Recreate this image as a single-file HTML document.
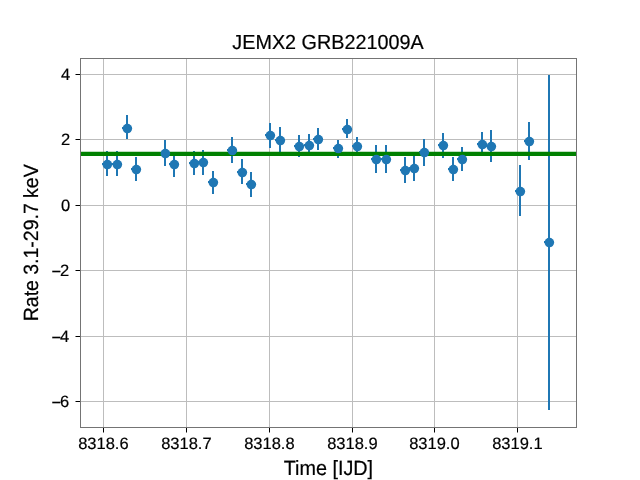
<!DOCTYPE html><html><head><meta charset="utf-8"><title>JEMX2 GRB221009A</title>
<style>html,body{margin:0;padding:0;background:#fff}svg{display:block}text{font-family:"Liberation Sans",sans-serif;fill:#000;stroke:#000;stroke-width:0.2px;text-rendering:geometricPrecision}</style></head><body>
<svg width="640" height="480" viewBox="0 0 640 480">
<rect width="640" height="480" fill="#fff"/>
<g stroke="#bdbdbd" stroke-width="1" fill="none">
<line x1="103.5" y1="58.5" x2="103.5" y2="427.5"/>
<line x1="186.5" y1="58.5" x2="186.5" y2="427.5"/>
<line x1="269.5" y1="58.5" x2="269.5" y2="427.5"/>
<line x1="352.5" y1="58.5" x2="352.5" y2="427.5"/>
<line x1="434.5" y1="58.5" x2="434.5" y2="427.5"/>
<line x1="517.5" y1="58.5" x2="517.5" y2="427.5"/>
<line x1="80.5" y1="74.5" x2="576.5" y2="74.5"/>
<line x1="80.5" y1="139.5" x2="576.5" y2="139.5"/>
<line x1="80.5" y1="205.5" x2="576.5" y2="205.5"/>
<line x1="80.5" y1="270.5" x2="576.5" y2="270.5"/>
<line x1="80.5" y1="336.5" x2="576.5" y2="336.5"/>
<line x1="80.5" y1="401.5" x2="576.5" y2="401.5"/>
</g>
<g stroke="#000" stroke-width="1">
<line x1="103.5" y1="427.5" x2="103.5" y2="432.5"/>
<line x1="186.5" y1="427.5" x2="186.5" y2="432.5"/>
<line x1="269.5" y1="427.5" x2="269.5" y2="432.5"/>
<line x1="352.5" y1="427.5" x2="352.5" y2="432.5"/>
<line x1="434.5" y1="427.5" x2="434.5" y2="432.5"/>
<line x1="517.5" y1="427.5" x2="517.5" y2="432.5"/>
<line x1="80.5" y1="74.5" x2="75.5" y2="74.5"/>
<line x1="80.5" y1="139.5" x2="75.5" y2="139.5"/>
<line x1="80.5" y1="205.5" x2="75.5" y2="205.5"/>
<line x1="80.5" y1="270.5" x2="75.5" y2="270.5"/>
<line x1="80.5" y1="336.5" x2="75.5" y2="336.5"/>
<line x1="80.5" y1="401.5" x2="75.5" y2="401.5"/>
</g>
<g stroke="#1f77b4" stroke-width="2" fill="none">
<line x1="107" y1="151" x2="107" y2="176"/>
<line x1="102.0" y1="164" x2="112.0" y2="164"/>
<line x1="117" y1="151" x2="117" y2="176"/>
<line x1="112.0" y1="164" x2="122.0" y2="164"/>
<line x1="127" y1="115" x2="127" y2="139"/>
<line x1="122.0" y1="128" x2="132.0" y2="128"/>
<line x1="136" y1="157" x2="136" y2="181"/>
<line x1="131.0" y1="169" x2="141.0" y2="169"/>
<line x1="165" y1="140" x2="165" y2="166"/>
<line x1="160.0" y1="153" x2="170.0" y2="153"/>
<line x1="174" y1="156" x2="174" y2="177"/>
<line x1="169.0" y1="164" x2="179.0" y2="164"/>
<line x1="194" y1="151" x2="194" y2="175"/>
<line x1="189.0" y1="163" x2="199.0" y2="163"/>
<line x1="203" y1="150" x2="203" y2="175"/>
<line x1="198.0" y1="162" x2="208.0" y2="162"/>
<line x1="213" y1="171" x2="213" y2="194"/>
<line x1="208.0" y1="182" x2="218.0" y2="182"/>
<line x1="232" y1="137" x2="232" y2="163"/>
<line x1="227.0" y1="150" x2="237.0" y2="150"/>
<line x1="242" y1="159" x2="242" y2="184"/>
<line x1="237.0" y1="172" x2="247.0" y2="172"/>
<line x1="251" y1="172" x2="251" y2="197"/>
<line x1="246.0" y1="184" x2="256.0" y2="184"/>
<line x1="270" y1="123" x2="270" y2="148"/>
<line x1="265.0" y1="135" x2="275.0" y2="135"/>
<line x1="280" y1="127" x2="280" y2="152"/>
<line x1="275.0" y1="140" x2="285.0" y2="140"/>
<line x1="299" y1="135" x2="299" y2="157"/>
<line x1="294.0" y1="146" x2="304.0" y2="146"/>
<line x1="309" y1="134" x2="309" y2="156"/>
<line x1="304.0" y1="145" x2="314.0" y2="145"/>
<line x1="318" y1="128" x2="318" y2="150"/>
<line x1="313.0" y1="139" x2="323.0" y2="139"/>
<line x1="338" y1="140" x2="338" y2="158"/>
<line x1="333.0" y1="148" x2="343.0" y2="148"/>
<line x1="347" y1="119" x2="347" y2="138"/>
<line x1="342.0" y1="129" x2="352.0" y2="129"/>
<line x1="357" y1="137" x2="357" y2="155"/>
<line x1="352.0" y1="146" x2="362.0" y2="146"/>
<line x1="376" y1="145" x2="376" y2="173"/>
<line x1="371.0" y1="159" x2="381.0" y2="159"/>
<line x1="386" y1="145" x2="386" y2="173"/>
<line x1="381.0" y1="159" x2="391.0" y2="159"/>
<line x1="405" y1="157" x2="405" y2="183"/>
<line x1="400.0" y1="170" x2="410.0" y2="170"/>
<line x1="414" y1="156" x2="414" y2="181"/>
<line x1="409.0" y1="168" x2="419.0" y2="168"/>
<line x1="424" y1="139" x2="424" y2="166"/>
<line x1="419.0" y1="152" x2="429.0" y2="152"/>
<line x1="443" y1="133" x2="443" y2="158"/>
<line x1="438.0" y1="145" x2="448.0" y2="145"/>
<line x1="453" y1="157" x2="453" y2="181"/>
<line x1="448.0" y1="169" x2="458.0" y2="169"/>
<line x1="462" y1="147" x2="462" y2="171"/>
<line x1="457.0" y1="159" x2="467.0" y2="159"/>
<line x1="482" y1="132" x2="482" y2="156"/>
<line x1="477.0" y1="144" x2="487.0" y2="144"/>
<line x1="491" y1="130" x2="491" y2="162"/>
<line x1="486.0" y1="146" x2="496.0" y2="146"/>
<line x1="520" y1="165" x2="520" y2="216"/>
<line x1="515.0" y1="191" x2="525.0" y2="191"/>
<line x1="529" y1="122" x2="529" y2="160"/>
<line x1="524.0" y1="141" x2="534.0" y2="141"/>
<line x1="549" y1="75" x2="549" y2="410"/>
<line x1="544.0" y1="242" x2="554.0" y2="242"/>
</g>
<line x1="80.5" y1="153.95" x2="576.5" y2="153.95" stroke="#008000" stroke-width="4.17"/>
<g fill="#1f77b4">
<circle cx="107.35" cy="164.55" r="4.8"/>
<circle cx="117.35" cy="164.55" r="4.8"/>
<circle cx="127.35" cy="128.55" r="4.8"/>
<circle cx="136.35" cy="169.55" r="4.8"/>
<circle cx="165.35" cy="153.55" r="4.8"/>
<circle cx="174.35" cy="164.55" r="4.8"/>
<circle cx="194.35" cy="163.55" r="4.8"/>
<circle cx="203.35" cy="162.55" r="4.8"/>
<circle cx="213.35" cy="182.55" r="4.8"/>
<circle cx="232.35" cy="150.55" r="4.8"/>
<circle cx="242.35" cy="172.55" r="4.8"/>
<circle cx="251.35" cy="184.55" r="4.8"/>
<circle cx="270.35" cy="135.55" r="4.8"/>
<circle cx="280.35" cy="140.55" r="4.8"/>
<circle cx="299.35" cy="146.55" r="4.8"/>
<circle cx="309.35" cy="145.55" r="4.8"/>
<circle cx="318.35" cy="139.55" r="4.8"/>
<circle cx="338.35" cy="148.55" r="4.8"/>
<circle cx="347.35" cy="129.55" r="4.8"/>
<circle cx="357.35" cy="146.55" r="4.8"/>
<circle cx="376.35" cy="159.55" r="4.8"/>
<circle cx="386.35" cy="159.55" r="4.8"/>
<circle cx="405.35" cy="170.55" r="4.8"/>
<circle cx="414.35" cy="168.55" r="4.8"/>
<circle cx="424.35" cy="152.55" r="4.8"/>
<circle cx="443.35" cy="145.55" r="4.8"/>
<circle cx="453.35" cy="169.55" r="4.8"/>
<circle cx="462.35" cy="159.55" r="4.8"/>
<circle cx="482.35" cy="144.55" r="4.8"/>
<circle cx="491.35" cy="146.55" r="4.8"/>
<circle cx="520.35" cy="191.55" r="4.8"/>
<circle cx="529.35" cy="141.55" r="4.8"/>
<circle cx="549.35" cy="242.55" r="4.8"/>
</g>
<rect x="80.5" y="58.5" width="496.0" height="369.0" fill="none" stroke="#747474" stroke-width="1"/>
<g font-size="16.5px">
<text transform="translate(103.4,448.8)" text-anchor="middle">8318.6</text>
<text transform="translate(186.4,448.8)" text-anchor="middle">8318.7</text>
<text transform="translate(269.4,448.8)" text-anchor="middle">8318.8</text>
<text transform="translate(352.4,448.8)" text-anchor="middle">8318.9</text>
<text transform="translate(434.4,448.8)" text-anchor="middle">8319.0</text>
<text transform="translate(517.4,448.8)" text-anchor="middle">8319.1</text>
<text transform="translate(70.3,79.8)" text-anchor="end">4</text>
<text transform="translate(70.3,144.8)" text-anchor="end">2</text>
<text transform="translate(70.3,210.8)" text-anchor="end">0</text>
<text transform="translate(69.1,275.8)" text-anchor="end"><tspan dy="1.6" letter-spacing="-1.2">−</tspan><tspan dy="-1.6">2</tspan></text>
<text transform="translate(69.1,341.8)" text-anchor="end"><tspan dy="1.6" letter-spacing="-1.2">−</tspan><tspan dy="-1.6">4</tspan></text>
<text transform="translate(69.1,406.8)" text-anchor="end"><tspan dy="1.6" letter-spacing="-1.2">−</tspan><tspan dy="-1.6">6</tspan></text>
</g>
<text transform="translate(328.0,48.6) scale(1,1.03)" text-anchor="middle" font-size="19.8px">JEMX2 GRB221009A</text>
<text transform="translate(328.4,474.5) scale(1,1.04)" text-anchor="middle" font-size="19.8px">Time [IJD]</text>
<text transform="translate(37.7,242.8) rotate(-90) scale(0.984,1.04)" text-anchor="middle" font-size="19.8px">Rate 3.1-29.7 keV</text>
</svg></body></html>
